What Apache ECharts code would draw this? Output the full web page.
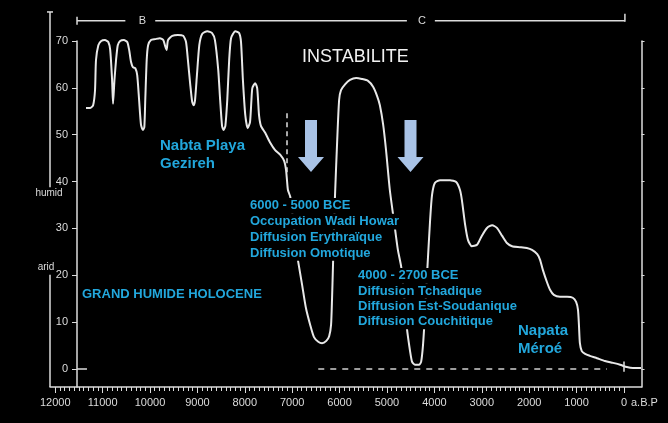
<!DOCTYPE html>
<html>
<head>
<meta charset="utf-8">
<script src="https://cdn.jsdelivr.net/npm/echarts@6/dist/echarts.min.js"></script>
<style>
  html, body { margin: 0; padding: 0; background: #000; }
  #chart { width: 668px; height: 423px; }
</style>
</head>
<body>
<div id="chart"></div>
<script>
// courbe humide / aride (années BP -> indice)
const curveYears = [
  11350, 11260, 11200, 11160, 11140, 11090, 11030, 10950, 10880, 10840,
  10800, 10780, 10750, 10720, 10710, 10680, 10630, 10550, 10480, 10440,
  10400, 10360, 10310, 10270, 10230, 10190, 10150, 10120, 10100, 10070,
  10040, 9980, 9890, 9790, 9720, 9680, 9650, 9620, 9530, 9410,
  9300, 9240, 9200, 9150, 9110, 9080, 9050, 9010, 8960, 8900,
  8790, 8690, 8630, 8560, 8520, 8480, 8450, 8410, 8370, 8330,
  8290, 8200, 8120, 8080, 8040, 7990, 7940, 7890, 7860, 7840,
  7780, 7740, 7720, 7700, 7660, 7570, 7470, 7360, 7250, 7170,
  7130, 7110, 7090,
  7040, 6920, 6880, 6790, 6710, 6620, 6540, 6450, 6370, 6280,
  6220, 6180, 6160, 6140, 6100, 6050, 6010, 5970, 5880, 5780,
  5650, 5530, 5400, 5290, 5210, 5150, 5080, 5020, 4940, 4850,
  4770, 4700, 4640, 4580, 4510, 4470, 4410, 4320, 4280, 4240,
  4200, 4150, 4090, 4050, 3990, 3880, 3670, 3540, 3460, 3420,
  3350, 3290, 3210, 3100, 3000, 2890, 2780, 2680, 2570, 2470,
  2360, 2190, 2050, 1940, 1830, 1770, 1710, 1620, 1560, 1480,
  1350, 1200, 1080, 1010, 970, 950, 930, 890, 820, 720,
  570, 400, 230, 80, -60, -190, -360,
];
const curveValues = [
  55.7, 55.7, 56.3, 59.5, 65.9, 69.1, 70.0, 70.2, 69.8, 68.1,
  61.7, 56.6, 61.7, 65.5, 66.6, 69.1, 70.0, 70.2, 69.8, 68.1,
  65.5, 64.4, 64.2, 62.7, 57.4, 52.1, 51.0, 51.6, 57.4, 65.9,
  69.1, 70.2, 70.4, 70.6, 70.2, 68.9, 68.1, 70.2, 71.1, 71.3,
  71.1, 69.8, 65.9, 60.6, 57.0, 56.3, 57.4, 62.7, 69.1, 71.5,
  72.1, 71.7, 70.2, 63.8, 57.4, 51.9, 51.0, 51.9, 57.4, 65.9,
  70.6, 72.1, 71.7, 69.8, 61.7, 54.2, 51.4, 52.7, 57.4, 60.0,
  61.0, 60.0, 57.4, 54.2, 51.9, 50.4, 48.4, 46.7, 45.7, 44.4,
  42.5, 40.3, 38.2,
  36.7, 26.5, 23.3, 17.9, 13.0, 9.4, 6.8, 5.8, 5.5, 6.0,
  7.0, 9.4, 14.7, 21.8, 36.1, 48.9, 57.4, 59.5, 60.8, 61.7,
  62.1, 61.9, 61.5, 60.2, 58.3, 56.3, 52.1, 46.7, 38.2, 31.4,
  25.4, 21.8, 15.8, 8.7, 3.6, 1.5, 0.9, 0.9, 1.5, 5.1,
  11.5, 21.1, 31.8, 37.1, 39.7, 40.3, 40.3, 39.9, 38.2, 36.1,
  30.7, 27.5, 26.2, 26.5, 28.4, 30.1, 30.7, 30.1, 28.4, 26.9,
  26.2, 26.0, 25.8, 25.4, 24.5, 23.3, 21.1, 18.4, 16.9, 15.8,
  15.4, 15.4, 15.2, 14.3, 12.6, 9.4, 5.5, 3.8, 3.2, 2.8,
  2.3, 1.7, 1.3, 0.9, 0.4, 0.2, 0.2,
];
const xTickLabels = [12000, 11000, 10000, 9000, 8000, 7000, 6000, 5000, 4000, 3000, 2000, 1000, 0];
const yTickLabels = [0, 10, 20, 30, 40, 50, 60, 70];
// traits verticaux (limites de périodes)
const boundaryYears = [7110, 6180, 5150, 3710, 2050];

const bloc1 = ['6000 - 5000 BCE', 'Occupation Wadi Howar', 'Diffusion Erythraïque', 'Diffusion Omotique'];
const bloc2 = ['4000 - 2700 BCE', 'Diffusion Tchadique', 'Diffusion Est-Soudanique', 'Diffusion Couchitique'];

// petites graduations tous les 100 ans
const minorTicks = [];
for (let y = 12000; y >= 0; y -= 100) minorTicks.push(y);

const FONT = '"Liberation Sans", Arial, sans-serif';
const axisColor = '#dcdcdc';
const cyan = '#22a7dc';
const X_MIN = -370;
const X_MAX = 12110;
const Y_MIN = -3.85;
const Y_MAX = 70;

const mychart = echarts.init(document.getElementById('chart'));

const option = {
  backgroundColor: '#000',
  animation: false,
  grid: { left: 50, right: 26.5, top: 41, bottom: 36 },
  xAxis: [
    {
      type: 'value',
      min: X_MIN,
      max: X_MAX,
      inverse: true,
      position: 'bottom',
      axisLine: { show: true, onZero: false, lineStyle: { color: axisColor, width: 1.5 } },
      axisTick: { show: true, customValues: xTickLabels, length: 6, lineStyle: { color: axisColor } },
      axisLabel: {
        customValues: xTickLabels,
        formatter: (v) => String(v),
        color: axisColor,
        fontSize: 11,
        fontFamily: FONT,
        margin: 10,
      },
      splitLine: { show: false },
    },
    {
      type: 'value',
      min: X_MIN,
      max: X_MAX,
      inverse: true,
      position: 'bottom',
      axisLine: { show: false, onZero: false },
      axisTick: { show: true, customValues: minorTicks, length: 4, lineStyle: { color: axisColor } },
      axisLabel: { show: false },
      splitLine: { show: false },
    },
  ],
  yAxis: [
    {
      type: 'value',
      min: Y_MIN,
      max: Y_MAX,
      position: 'left',
      offset: -27,
      axisLine: { show: true, onZero: false, lineStyle: { color: axisColor, width: 1.5 } },
      axisTick: { show: true, customValues: yTickLabels, length: 5, lineStyle: { color: axisColor } },
      axisLabel: { customValues: yTickLabels, color: axisColor, fontSize: 11, fontFamily: FONT, margin: 9 },
      splitLine: { show: false },
    },
    {
      type: 'value',
      min: Y_MIN,
      max: Y_MAX,
      position: 'right',
      axisLine: { show: true, onZero: false, lineStyle: { color: axisColor, width: 1.5 } },
      axisTick: { show: true, customValues: yTickLabels, length: 3, lineStyle: { color: axisColor } },
      axisLabel: { show: false },
      splitLine: { show: false },
    },
  ],
  series: [
    {
      type: 'line',
      data: curveYears.map((yr, i) => [yr, curveValues[i]]),
      showSymbol: false,
      smooth: 0.2,
      clip: false,
      z: 3,
      lineStyle: { color: '#e8e8e8', width: 2 },
      markLine: {
        silent: true,
        symbol: 'none',
        label: { show: false },
        animation: false,
        data: [
          ...boundaryYears.map((yr) => [
            { coord: [yr, -0.7], lineStyle: { color: '#5a5a5a', width: 1, type: 'solid' } },
            { coord: [yr, 72] },
          ]),
          // tireté du zéro
          [
            { coord: [6450, 0], lineStyle: { color: '#d0d0d0', width: 1.5, type: [6, 6] } },
            { coord: [360, 0] },
          ],
          // petit trait du zéro contre l'axe
          [
            { coord: [11540, 0], lineStyle: { color: axisColor, width: 1.5, type: 'solid' } },
            { coord: [11330, 0] },
          ],
          // tireté blanc vers 7100
          [
            { coord: [7110, 42], lineStyle: { color: '#e0e0e0', width: 1.5, type: [5, 4] } },
            { coord: [7110, 54.6] },
          ],
          // croix à 0 BP
          [
            { coord: [0, -0.6], lineStyle: { color: '#e0e0e0', width: 1.5, type: 'solid' } },
            { coord: [0, 1.6] },
          ],
        ],
      },
    },
  ],
};

mychart.setOption(option);

// éléments d'annotation
const px = (yr, v) => mychart.convertToPixel({ seriesIndex: 0 }, [yr, v]);
const lineEl = (p1, p2, color) => ({
  type: 'line',
  z: 50,
  shape: { x1: p1[0], y1: p1[1], x2: p2[0], y2: p2[1] },
  style: { stroke: color || axisColor, lineWidth: 1.5 },
});
const textEl = (x, y, text, size, color, extra) => ({
  type: 'text',
  z: 60,
  style: Object.assign({
    x: x,
    y: y,
    text: text,
    fontSize: size,
    fontFamily: FONT,
    fill: color,
    verticalAlign: 'middle',
  }, extra || {}),
});
const arrowEl = (cx) => ({
  type: 'polygon',
  z: 60,
  shape: {
    points: [[cx - 6, 120], [cx + 6, 120], [cx + 6, 157], [cx + 13, 157], [cx, 172], [cx - 13, 157], [cx - 6, 157]],
  },
  style: { fill: '#a9c3e6' },
});
// bloc de texte : fond noir ligne par ligne, qui masque la courbe
const richBlock = (x, y, lines, lh) => ({
  type: 'text',
  z: 60,
  style: {
    x: x,
    y: y,
    verticalAlign: 'top',
    text: lines.map((s) => '{a|' + s + '}').join('\n'),
    rich: {
      a: {
        fontSize: 13,
        fontWeight: 'bold',
        fontFamily: FONT,
        fill: cyan,
        backgroundColor: '#000',
        lineHeight: lh,
        height: lh,
      },
    },
  },
});

const yB = px(0, 74.3)[1];
const xL = px(X_MAX, 0)[0];

const graphics = [
  // accolade B / C
  lineEl([px(11540, 0)[0], yB - 4], [px(11540, 0)[0], yB + 4]),
  lineEl([px(11540, 0)[0], yB], [px(10520, 0)[0], yB]),
  textEl(px(10160, 0)[0], yB, 'B', 11, axisColor, { align: 'center' }),
  lineEl([px(9890, 0)[0], yB], [px(4580, 0)[0], yB]),
  textEl(px(4260, 0)[0], yB, 'C', 11, axisColor, { align: 'center' }),
  lineEl([px(3990, 0)[0], yB], [px(-20, 0)[0], yB]),
  lineEl([px(-20, 0)[0], yB - 7], [px(-20, 0)[0], yB + 1]),
  // repères humid / arid
  lineEl([xL, px(0, 76.2)[1]], [xL, px(0, 38.8)[1]]),
  lineEl([xL - 3, px(0, 76.2)[1]], [xL + 3, px(0, 76.2)[1]]),
  textEl(xL - 1, px(0, 37.4)[1], 'humid', 10, axisColor, { align: 'center' }),
  textEl(xL - 4, px(0, 21.8)[1], 'arid', 10, axisColor, { align: 'center' }),
  lineEl([xL, px(0, 20.1)[1]], [xL, px(0, Y_MIN)[1]]),
  textEl(px(0, 0)[0] + 7, px(0, Y_MIN)[1] + 16, 'a.B.P', 11, axisColor, { align: 'left' }),
  // textes
  textEl(302, 57, 'INSTABILITE', 18, '#f2f2f2'),
  textEl(160, 137, 'Nabta Playa\nGezireh', 15, cyan, { fontWeight: 'bold', verticalAlign: 'top', lineHeight: 18 }),
  richBlock(250, 198, bloc1, 15.7),
  richBlock(358, 268, bloc2, 15.3),
  textEl(82, 294, 'GRAND HUMIDE HOLOCENE', 13, cyan, { fontWeight: 'bold' }),
  textEl(518, 322, 'Napata\nMéroé', 15, cyan, { fontWeight: 'bold', verticalAlign: 'top', lineHeight: 18 }),
  // flèches
  arrowEl(311),
  arrowEl(410.5),
];

mychart.setOption({ graphic: graphics });

window.addEventListener('resize', () => {
  mychart.resize();
});
</script>
</body>
</html>
